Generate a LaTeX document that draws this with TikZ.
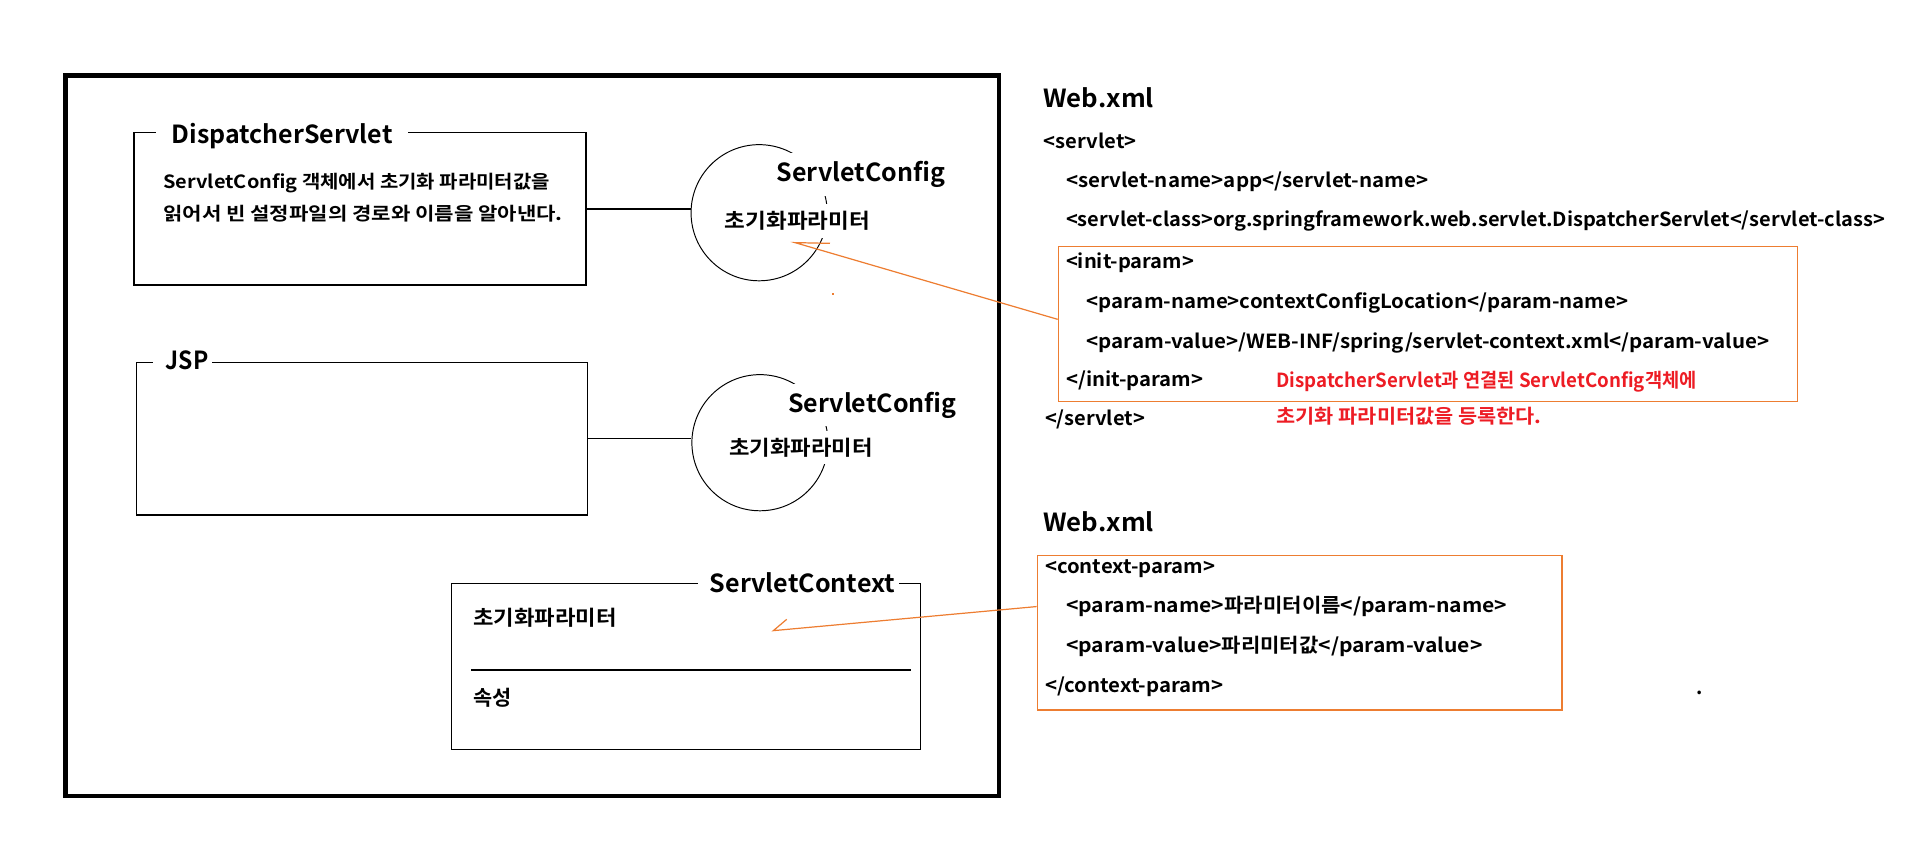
\documentclass[tikz,border=0pt]{standalone}
\usepackage{fontspec}
\usepackage{graphicx}
\setmainfont{Noto Sans CJK KR}[BoldFont={Noto Sans CJK KR Bold}]
\usetikzlibrary{arrows.meta}
\definecolor{org}{RGB}{237,125,49}
\definecolor{rd}{RGB}{237,28,36}
\newcommand\fw[2]{\resizebox{#1pt}{\height}{#2}}
\begin{document}
\begin{tikzpicture}[x=1pt,y=-1pt,
  thinline/.style={line width=1pt},
  box/.style={draw, line width=1pt, rectangle, inner sep=0pt},
  obox/.style={draw=org, line width=1pt, rectangle, inner sep=0pt},
  ring/.style={draw, circle, line width=0.8pt, inner sep=0pt, minimum size=112pt},
  ttl/.style={font=\fontsize{20.5}{24}\selectfont\bfseries, anchor=text, inner sep=0pt},
  cfg/.style={ttl, fill=white, inner sep=6.5pt},
  kor/.style={font=\fontsize{17}{20}\selectfont\bfseries, anchor=text, inner sep=0pt},
  kin/.style={kor, fill=white, inner sep=6pt},
  body/.style={font=\fontsize{15}{18}\selectfont\bfseries, anchor=text, inner sep=0pt},
  xml/.style={font=\fontsize{16}{19}\selectfont\bfseries, anchor=text, inner sep=0pt},
  note/.style={xml, text=rd},
  link/.style={draw=org, line width=1pt, line join=miter},
  gap/.style={fill=white}
]
\useasboundingbox (0,0) rectangle (1568,706);

% outer frame
\node[draw, line width=3.6pt, minimum width=768pt, minimum height=593pt, inner sep=0pt] (outer) at (438,358.5) {};

% DispatcherServlet box
\node[box, minimum width=371.8pt, minimum height=125.3pt] (ds) at (296.1,171.85) {};
\path[gap] (128.5,104) rectangle (335.6,114);
\node[ttl] (tds) at (141.2,117.9) {\fw{181.8}{DispatcherServlet}};
\node[body] (b1) at (134.4,155) {\fw{318}{ServletConfig 객체에서 초기화 파라미터값을}};
\node[body] (b2) at (134.4,181) {\fw{328.6}{읽어서 빈 설정파일의 경로와 이름을 알아낸다.}};

% JSP box
\node[box, minimum width=371pt, minimum height=125.4pt] (jsp) at (297.9,361) {};
\path[gap] (126.1,293) rectangle (174.7,303);
\node[ttl] (tjsp) at (136.3,303.6) {\fw{35.1}{JSP}};

% ServletContext box
\node[box, minimum width=385.5pt, minimum height=136.5pt] (sc) at (564.35,548.15) {};
\path[gap] (574.5,475) rectangle (739.8,485);
\node[ttl] (tsc) at (584,487.6) {\fw{152.3}{ServletContext}};
\node[kor] (scp) at (389.4,514.8) {\fw{117.9}{초기화파라미터}};
\coordinate (dl) at (387.5,551.2);
\coordinate (dr) at (749.2,551.2);
\draw[thinline] (dl) -- (dr);
\node[kor] (sca) at (389.4,580.2) {\fw{31.5}{속성}};

% ServletConfig circles
\node[ring] (c1) at (624.5,175) {};
\node[ring] (c2) at (625.2,364.2) {};
\node[cfg] (cf1) at (639,149.4) {\fw{138.4}{ServletConfig}};
\node[kin] (ip1) at (596.4,188) {\fw{119.3}{초기화파라미터}};
\node[cfg] (cf2) at (648.5,339.2) {\fw{138.5}{ServletConfig}};
\node[kin] (ip2) at (600,374.5) {\fw{117.9}{초기화파라미터}};
\draw[thinline] (ds.east) -- (ds.east -| c1.west);
\draw[thinline] (jsp.east) -- (jsp.east -| c2.west);

% Web.xml (servlet)
\node[ttl] (w1) at (858.3,88.3) {\fw{91}{Web.xml}};
\node[xml] (x1) at (858.8,122) {\fw{76.3}{<servlet>}};
\node[xml] (x2) at (877,154.4) {\fw{298}{<servlet-name>app</servlet-name>}};
\node[xml] (x3) at (877,186.5) {\fw{673.7}{<servlet-class>org.springframework.web.servlet.DispatcherServlet</servlet-class>}};
\node[obox, minimum width=607.9pt, minimum height=127pt] (ob1) at (1174.55,266.5) {};
\node[xml] (x4) at (877,220.7) {\fw{105.3}{<init-param>}};
\node[xml] (x5) at (894,253.7) {\fw{445.5}{<param-name>contextConfigLocation</param-name>}};
\node[xml] (x6) at (894,286.6) {\fw{561.5}{<param-value>/WEB-INF/spring/servlet-context.xml</param-value>}};
\node[xml] (x7) at (877,318) {\fw{113}{</init-param>}};
\node[xml] (x8) at (859.7,350.4) {\fw{82.3}{</servlet>}};
\node[note] (n1) at (1050.2,319) {\fw{345.6}{DispatcherServlet과 연결된 ServletConfig객체에}};
\node[note] (n2) at (1050.2,348.3) {\fw{218.1}{초기화 파라미터값을 등록한다.}};

% Web.xml (context-param)
\node[ttl] (w2) at (858.3,437.5) {\fw{91}{Web.xml}};
\node[obox, minimum width=431.7pt, minimum height=127pt] (ob2) at (1069.15,520.6) {};
\node[xml] (y1) at (859.7,471.7) {\fw{139.9}{<context-param>}};
\node[xml] (y2) at (877,504) {\fw{363}{<param-name>파라미터이름</param-name>}};
\node[xml] (y3) at (877,536.9) {\fw{342.5}{<param-value>파리미터값</param-value>}};
\node[xml] (y4) at (859.7,569.8) {\fw{146.7}{</context-param>}};
\node[xml] (dot) at (1396,571) {.};

% arrows (one-sided barbs, as in the reference)
\coordinate (tip1) at (654,199.6);
\coordinate (tip2) at (636.2,518.8);
\draw[link] ([yshift=3.8pt]ob1.west) -- (tip1) -- ++(28.8,0.6);
\draw[link] ([yshift=21.6pt]ob2.west) -- (tip2) -- ++(11,-9.3);
\fill[org] (684.5,241.3) rectangle (686.5,243);
\end{tikzpicture}
\end{document}
